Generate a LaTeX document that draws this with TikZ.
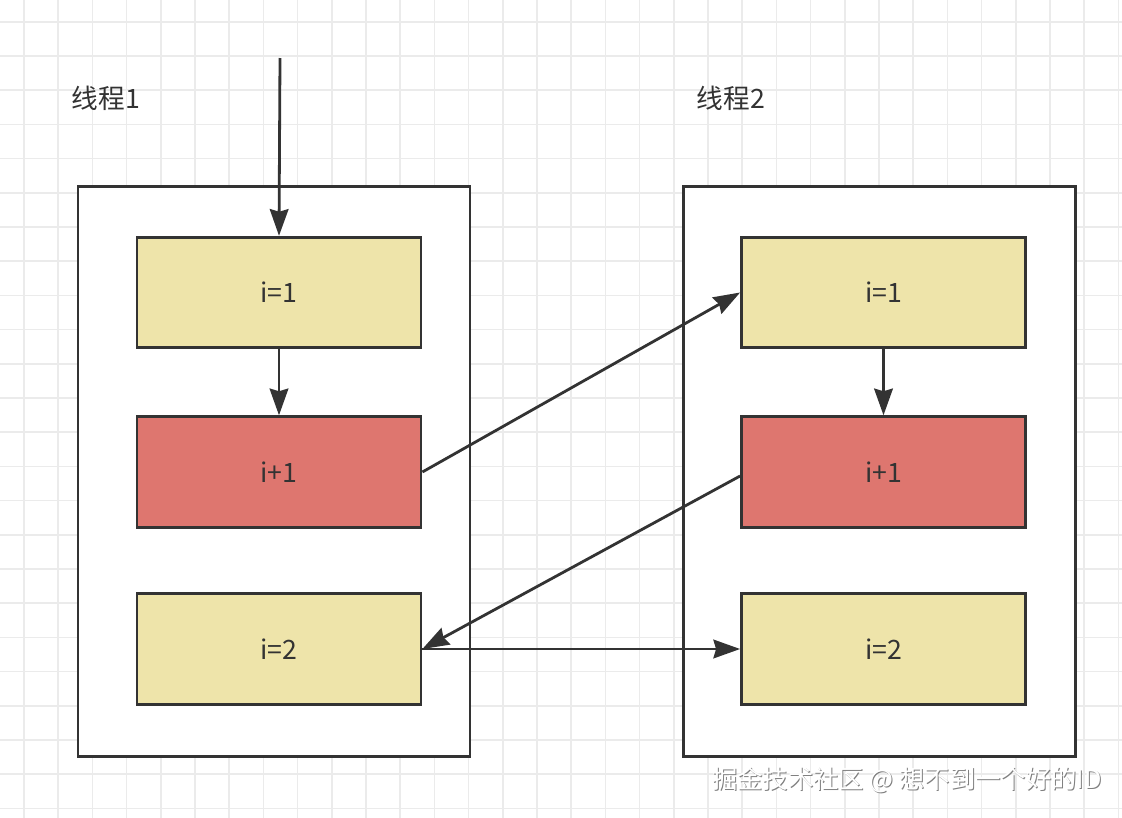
\documentclass[tikz,border=0pt]{standalone}
\usepackage{fontspec}
\setmainfont{Noto Sans CJK SC}
\usetikzlibrary{arrows.meta}
\definecolor{ink}{HTML}{333333}
\definecolor{boxyellow}{HTML}{EEE4AA}
\definecolor{boxred}{HTML}{DE766F}
\definecolor{gridgray}{HTML}{EBEBEB}
\begin{document}
\begin{tikzpicture}[x=0.75pt, y=-0.75pt,
    gridline/.style={draw=gridgray, line width=1.2pt},
    thread/.style={draw=ink, fill=white, line width=2.1pt, minimum width=294pt, minimum height=428pt},
    cell/.style={draw=ink, line width=2.1pt, minimum width=213pt, minimum height=83pt, font=\fontsize{20}{24}\selectfont, text=ink},
    ok/.style={cell, fill=boxyellow},
    hot/.style={cell, fill=boxred},
    title/.style={font=\fontsize{20}{24}\selectfont, text=ink},
    link/.style={draw=ink, line width=2.1pt, -{Stealth[length=20pt, width=14pt, inset=2pt]}}]
    \useasboundingbox (0,0) rectangle (1122,818);
    \fill[white] (0,0) rectangle (1122,818);
    \foreach \k in {0,...,32} \draw[gridline] (24+34.2*\k,0) -- (24+34.2*\k,818);
    \foreach \k in {0,...,23} \draw[gridline] (0,21.7+34.2*\k) -- (1122,21.7+34.2*\k);
    \path (274,471.5) node[thread](TA){}
        (879.5,471.5) node[thread](TB){}
        (106,98) node[title](NA){线程1}
        (731,98) node[title](NB){线程2};
    \path (279,292.5) node[ok](L1){i=1}
        (279,472) node[hot](L2){i+1}
        (279,649) node[ok](L3){i=2}
        (883.5,292.5) node[ok](R1){i=1}
        (883.5,472) node[hot](R2){i+1}
        (883.5,649) node[ok](R3){i=2};
    \coordinate (S) at (280,58);
    \draw[link] (S) -- (L1.north);
    \draw[link] (L1) -- (L2);
    \draw[link] (R1) -- (R2);
    \draw[link] (L2.east) -- (R1.west);
    \draw[link] ([yshift=-3pt]R2.west) -- (L3.east);
    \draw[link] (L3.east) -- (R3.west);
    \node[font=\fontsize{19}{23}\selectfont, text=gray] (WS) at (908,781) {掘金技术社区 @ 想不到一个好的ID};
    \node[font=\fontsize{19}{23}\selectfont, text=white] (W) at (907,780) {掘金技术社区 @ 想不到一个好的ID};
\end{tikzpicture}
\end{document}
